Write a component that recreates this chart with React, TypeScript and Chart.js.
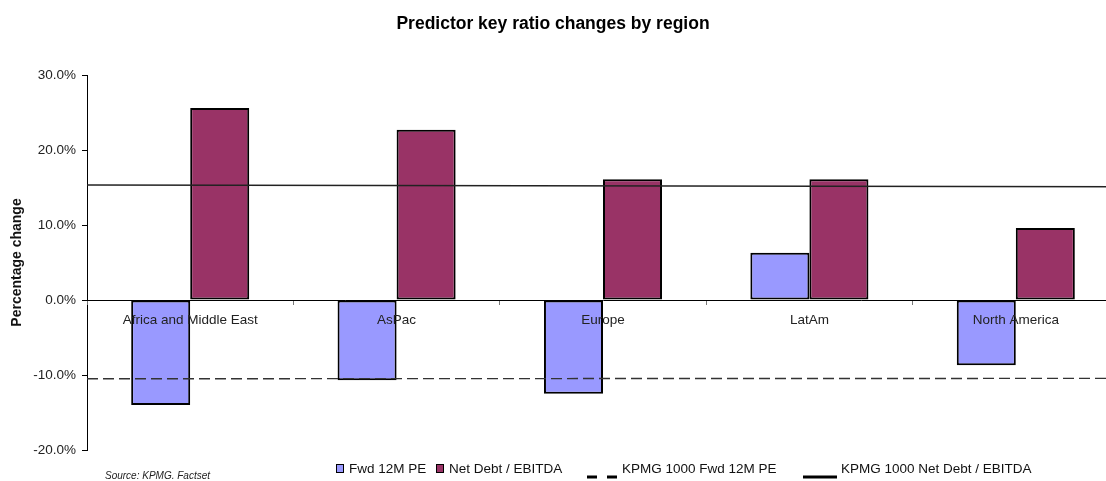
import React, { useEffect, useRef } from 'react';
import { Chart, registerables } from 'chart.js';

Chart.register(...registerables);

const FONT = '"Liberation Sans", Arial, Helvetica, sans-serif';

// ---- data ----
const titleText = 'Predictor key ratio changes by region';
const sourceText = 'Source: KPMG. Factset';
const yAxisTitle = 'Percentage change';
const categories = ['Africa and Middle East', 'AsPac', 'Europe', 'LatAm', 'North America'];
const seriesLabels = ['Fwd 12M PE', 'Net Debt / EBITDA', 'KPMG 1000 Fwd 12M PE', 'KPMG 1000 Net Debt / EBITDA'];
const fwdPE = [-14.0, -10.7, -12.5, 6.3, -8.7];
const netDebtEbitda = [25.6, 22.7, 16.1, 16.1, 9.6];
// reference lines: value at left end and right end of the plot (x2 scale runs 0..1)
const lineSpanX = [0, 1];
const kpmgFwdPE = [-10.5, -10.45];
const kpmgNetDebt = [15.33, 15.1];
const yTickValues = [-20, -10, 0, 10, 20, 30];

const BLUE = '#9999FF';
const PLUM = '#993366';

const refLines = [
  { label: seriesLabels[2], values: kpmgFwdPE, color: '#333', width: 1.4, dash: [11, 5] },
  { label: seriesLabels[3], values: kpmgNetDebt, color: '#222', width: 1.4, dash: [] as number[] },
];

const refLinesPlugin = {
  id: 'refLines',
  afterDatasetsDraw(chart: any) {
    const { ctx, chartArea, scales } = chart;
    const xs = scales.x2;
    const ys = scales.y;
    ctx.save();
    ctx.beginPath();
    ctx.rect(chartArea.left, chartArea.top, chartArea.right - chartArea.left, chartArea.bottom - chartArea.top);
    ctx.clip();
    refLines.forEach((l) => {
      ctx.strokeStyle = l.color;
      ctx.lineWidth = l.width;
      ctx.setLineDash(l.dash);
      ctx.beginPath();
      lineSpanX.forEach((xv, i) => {
        const px = xs.getPixelForValue(xv);
        const py = ys.getPixelForValue(l.values[i]);
        if (i === 0) ctx.moveTo(px, py);
        else ctx.lineTo(px, py);
      });
      ctx.stroke();
    });
    ctx.restore();
  },
};

const overlayPlugin = {
  id: 'overlay',
  afterDraw(chart: any) {
    const ctx = chart.ctx as CanvasRenderingContext2D;
    const ds = chart.data.datasets;
    ctx.save();
    // title
    ctx.fillStyle = '#000';
    ctx.font = `bold 17.5px ${FONT}`;
    ctx.textAlign = 'center';
    ctx.textBaseline = 'alphabetic';
    ctx.fillText(titleText, 553, 29);
    // source
    ctx.font = `italic 10px ${FONT}`;
    ctx.textAlign = 'left';
    ctx.fillStyle = '#222';
    ctx.fillText(sourceText, 105, 479);
    // legend
    ctx.font = `13.5px ${FONT}`;
    const boxItems = [
      { bx: 336.5, tx: 349, i: 0 },
      { bx: 436.5, tx: 449, i: 1 },
    ];
    boxItems.forEach((b) => {
      ctx.fillStyle = ds[b.i].backgroundColor;
      ctx.fillRect(b.bx, 464.5, 7, 8);
      ctx.strokeStyle = '#000';
      ctx.lineWidth = 1;
      ctx.strokeRect(b.bx, 464.5, 7, 8);
      ctx.fillStyle = '#111';
      ctx.fillText(ds[b.i].label, b.tx, 473);
    });
    const lineItems = [
      { x1: 587, x2: 617, tx: 622, i: 0 },
      { x1: 803, x2: 837, tx: 841, i: 1 },
    ];
    lineItems.forEach((l) => {
      const rl = refLines[l.i];
      ctx.strokeStyle = '#000';
      ctx.lineWidth = 3;
      ctx.setLineDash(rl.dash.length ? [10, 10] : []);
      ctx.beginPath();
      ctx.moveTo(l.x1, 477);
      ctx.lineTo(l.x2, 477);
      ctx.stroke();
      ctx.setLineDash([]);
      ctx.fillStyle = '#111';
      ctx.fillText(rl.label, l.tx, 473);
    });
    ctx.restore();
  },
};

export default function App() {
  const ref = useRef<HTMLCanvasElement | null>(null);

  useEffect(() => {
    if (!ref.current) return;
    Chart.defaults.font.family = FONT;
    const chart = new Chart(ref.current, {
      type: 'bar',
      data: {
        labels: categories,
        datasets: [
          {
            label: seriesLabels[0],
            data: fwdPE,
            backgroundColor: BLUE,
            borderColor: '#000',
            borderWidth: 2,
            borderSkipped: false,
            categoryPercentage: 0.572,
            barPercentage: 1,
          },
          {
            label: seriesLabels[1],
            data: netDebtEbitda,
            backgroundColor: PLUM,
            borderColor: '#000',
            borderWidth: 2,
            borderSkipped: false,
            categoryPercentage: 0.572,
            barPercentage: 1,
          },
        ] as any,
      },
      options: {
        animation: false,
        responsive: false,
        devicePixelRatio: 1,
        layout: { padding: { left: 0, right: 6, top: 75, bottom: 31 } },
        plugins: {
          legend: { display: false },
          title: { display: false },
          tooltip: { enabled: false },
        },
        scales: {
          x: {
            type: 'category',
            position: { y: 0 } as any,
            offset: true,
            grid: {
              drawOnChartArea: false,
              drawTicks: true,
              tickLength: 4,
              color: '#777',
              offset: true,
              z: 1,
            },
            border: { display: true, color: '#000', width: 1, z: 1 },
            ticks: {
              font: { size: 13.5, family: FONT },
              color: '#222',
              padding: 8,
              maxRotation: 0,
              autoSkip: false,
              z: 1,
            },
          },
          x2: {
            type: 'linear',
            display: false,
            min: 0,
            max: 1,
            offset: false,
          },
          y: {
            type: 'linear',
            position: 'left',
            min: -20,
            max: 30,
            afterFit: (s: any) => {
              s.width = 87;
            },
            afterBuildTicks: (s: any) => {
              s.ticks = yTickValues.map((v) => ({ value: v }));
            },
            grid: {
              drawOnChartArea: false,
              drawTicks: true,
              tickLength: 5,
              color: '#000',
            },
            border: { display: true, color: '#000', width: 1 },
            ticks: {
              font: { size: 13.5, family: FONT },
              color: '#222',
              padding: 6,
              callback: (v: any) => `${Number(v).toFixed(1)}%`,
            },
            title: {
              display: true,
              text: yAxisTitle,
              font: { size: 14, weight: 'bold', family: FONT },
              color: '#111',
              padding: { top: 9, bottom: 0 },
            },
          },
        },
      },
      plugins: [refLinesPlugin, overlayPlugin],
    });
    return () => chart.destroy();
  }, []);

  return (
    <div
      style={{
        position: 'absolute',
        left: 0,
        top: 0,
        width: 1106,
        height: 481,
        overflow: 'hidden',
        background: '#fff',
      }}
    >
      <canvas ref={ref} width={1125} height={481} style={{ display: 'block' }} />
    </div>
  );
}
